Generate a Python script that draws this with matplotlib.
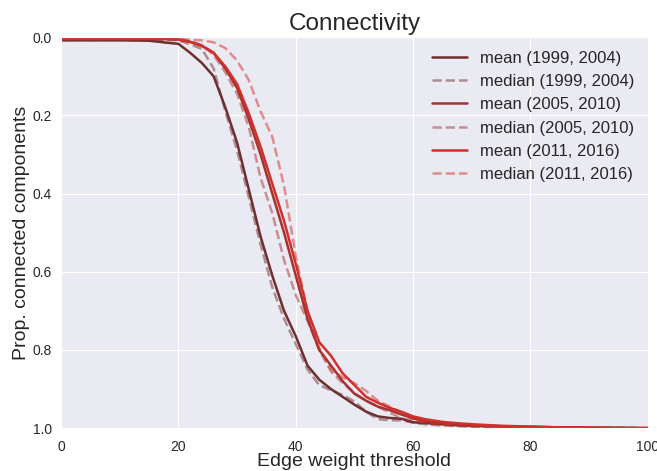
import matplotlib
matplotlib.use("Agg")
import matplotlib.pyplot as plt
import seaborn as sns

sns.set_style("darkgrid")
plt.rcParams['font.family'] = ['Liberation Sans', 'DejaVu Sans']

threshold = [0, 5, 10, 15, 18, 20, 22, 24, 26, 28, 30, 32, 34, 36, 38, 40, 42, 44, 46, 48,
             50, 52, 54, 56, 58, 60, 62, 65, 68, 70, 75, 80, 85, 90, 100]

mean_1999 = [0.008, 0.008, 0.008, 0.009, 0.014, 0.017, 0.040, 0.066, 0.100, 0.180, 0.270, 0.390,
             0.510, 0.610, 0.700, 0.765, 0.840, 0.876, 0.900, 0.920, 0.940, 0.958, 0.970, 0.974,
             0.976, 0.985, 0.987, 0.990, 0.993, 0.994, 0.996, 0.997, 0.998, 0.999, 1.0]
median_1999 = [0.007, 0.007, 0.007, 0.007, 0.007, 0.008, 0.018, 0.030, 0.080, 0.190, 0.290, 0.410,
               0.530, 0.640, 0.720, 0.785, 0.850, 0.890, 0.903, 0.915, 0.932, 0.958, 0.977, 0.980,
               0.980, 0.986, 0.990, 0.993, 0.995, 0.996, 0.997, 0.998, 0.999, 0.999, 1.0]
mean_2005 = [0.005, 0.005, 0.005, 0.005, 0.005, 0.006, 0.012, 0.022, 0.040, 0.080, 0.130, 0.210,
             0.300, 0.400, 0.500, 0.610, 0.720, 0.800, 0.840, 0.880, 0.912, 0.930, 0.945, 0.954,
             0.965, 0.975, 0.982, 0.987, 0.990, 0.992, 0.995, 0.997, 0.998, 0.999, 1.0]
median_2005 = [0.005, 0.005, 0.005, 0.005, 0.005, 0.005, 0.010, 0.020, 0.045, 0.090, 0.145, 0.230,
               0.360, 0.450, 0.570, 0.660, 0.725, 0.800, 0.855, 0.885, 0.910, 0.930, 0.945, 0.960,
               0.975, 0.982, 0.986, 0.990, 0.993, 0.995, 0.997, 0.998, 0.999, 0.999, 1.0]
mean_2011 = [0.004, 0.004, 0.004, 0.004, 0.004, 0.006, 0.012, 0.022, 0.040, 0.075, 0.120, 0.195,
             0.280, 0.375, 0.470, 0.580, 0.700, 0.780, 0.815, 0.860, 0.890, 0.920, 0.935, 0.948,
             0.958, 0.970, 0.977, 0.984, 0.988, 0.990, 0.994, 0.996, 0.998, 0.999, 1.0]
median_2011 = [0.004, 0.004, 0.004, 0.004, 0.004, 0.005, 0.006, 0.008, 0.013, 0.028, 0.060, 0.110,
               0.190, 0.255, 0.380, 0.560, 0.700, 0.795, 0.850, 0.870, 0.885, 0.905, 0.930, 0.945,
               0.960, 0.978, 0.985, 0.991, 0.994, 0.995, 0.997, 0.998, 0.999, 0.999, 1.0]

labels = ["(1999, 2004)", "(2005, 2010)", "(2011, 2016)"]
colors = ["#6d2f2f", "#a53131", "#d22f2a"]
means = [mean_1999, mean_2005, mean_2011]
medians = [median_1999, median_2005, median_2011]

fig = plt.figure(figsize=(6.57, 4.71), dpi=100)
ax = fig.add_axes([0.093, 0.091, 0.893, 0.830])

for lab, c, mn, md in zip(labels, colors, means, medians):
    ax.plot(threshold, mn, color=c, lw=1.8, label=f"mean {lab}")
    ax.plot(threshold, md, color=c, lw=1.8, ls="--", alpha=0.5, label=f"median {lab}")

ax.set_xlim(0, 100)
ax.set_ylim(1.0, 0.0)
ax.set_xticks([0, 20, 40, 60, 80, 100])
ax.set_yticks([0.0, 0.2, 0.4, 0.6, 0.8, 1.0])
ax.set_yticklabels(["0.0", "0.2", "0.4", "0.6", "0.8", "1.0"])
ax.tick_params(labelsize=10, colors="#262626")
ax.tick_params(axis="x", pad=5)
ax.tick_params(axis="y", pad=3)
ax.set_title("Connectivity", fontsize=17.5, color="#262626", pad=5)
ax.set_xlabel("Edge weight threshold", fontsize=14, color="#262626", labelpad=-1)
ax.set_ylabel("Prop. connected components", fontsize=14, color="#262626", labelpad=2)
leg = ax.legend(loc="upper right", fontsize=12, frameon=False, handlelength=2.1,
                borderaxespad=0.4)
for t in leg.get_texts():
    t.set_color("#262626")

fig.savefig("out.png", dpi=100)
